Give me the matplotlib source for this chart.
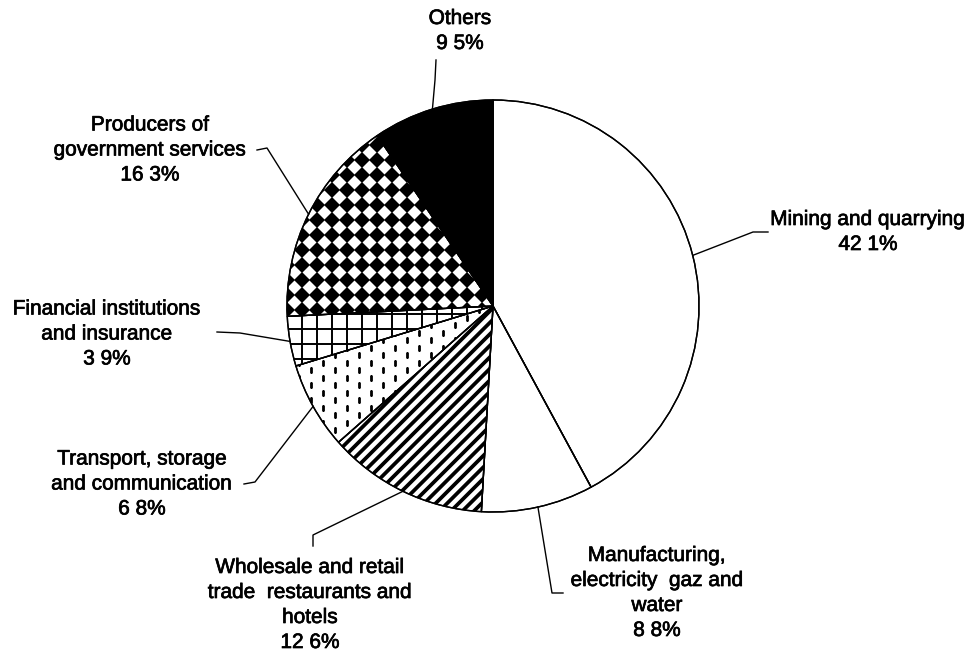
import numpy as np
import matplotlib
matplotlib.use('Agg')
import matplotlib.pyplot as plt
import matplotlib.patheffects as pe
from matplotlib.patches import Wedge

plt.rcParams['font.family'] = ['Liberation Sans', 'DejaVu Sans']

# shares of value added by sector (%)
sectors = ['Mining and quarrying',
           'Manufacturing,\nelectricity  gaz and\nwater',
           'Wholesale and retail\ntrade  restaurants and\nhotels',
           'Transport, storage\nand communication',
           'Financial institutions\nand insurance',
           'Producers of\ngovernment services',
           'Others']
shares = [42.1, 8.8, 12.6, 6.8, 3.9, 16.3, 9.5]
pct_labels = ['42 1%', '8 8%', '12 6%', '6 8%', '3 9%', '16 3%', '9 5%']

# label placement (pixels, y downwards): text centre, elbow point, line end
text_pos = [(868, 232), (657, 593), (310, 605), (142, 484), (107, 334), (150, 150), (460, 31)]
elbows = [(753, 232), (552, 593), (313, 535), (255, 482), (240, 333), (267, 148), (435, 80)]
ends = [(768, 232), (563, 593), (313, 546), (244, 484), (217, 332), (257, 150), (436, 60)]

cx, cy, R = 493, 306, 206

fig = plt.figure(figsize=(9.76, 6.6), dpi=100)
ax = fig.add_axes([0, 0, 1, 1])

wedges, _ = ax.pie(shares, startangle=-90, counterclock=True, center=(cx, cy), radius=R,
                   colors=['white'] * 6 + ['black'],
                   wedgeprops=dict(edgecolor='black', linewidth=1.0), frame=True)
ax.set_xlim(0, 976)
ax.set_ylim(660, 0)
ax.axis('off')

# diagonal stripes for wholesale/retail
for c in np.arange(cx + cy - 2 * R, cx + cy + 2 * R, 11.5):
    ln, = ax.plot([cx - R, cx + R], [c - (cx - R), c - (cx + R)], color='black', lw=2.7,
                  solid_capstyle='butt', zorder=3)
    ln.set_clip_path(wedges[2])

# square grid for financial institutions
for v in np.arange(cx - R, cx + R, 15):
    ln, = ax.plot([v, v], [cy - R, cy + R], color='black', lw=1.4, zorder=3)
    ln.set_clip_path(wedges[4])
    ln, = ax.plot([cx - R, cx + R], [v - cx + cy + 4, v - cx + cy + 4], color='black', lw=1.4, zorder=3)
    ln.set_clip_path(wedges[4])

# diamond checker texture for government services
gx = np.arange(cx - R, cx + R + 15, 15)
gy = np.arange(cy - R, cy + R + 15, 15)
XX, YY = np.meshgrid(gx, gy)
dm, = ax.plot(XX.ravel(), YY.ravel(), 'D', ms=8.3, color='black', mew=0, zorder=3)
dm.set_clip_path(wedges[5])

# vertical dash texture for transport
tx = np.arange(cx - R, cx + R + 12, 12)
ty = np.arange(cy - R, cy + R + 15, 15)
TX, TY = np.meshgrid(tx, ty)
TY = TY + (np.arange(len(tx)) % 2) * 7.5
ds, = ax.plot(TX.ravel(), TY.ravel(), '|', ms=4.5, mew=2.0, color='black', zorder=3)
ds.set_clip_path(wedges[3])

# redraw outlines above the textures
for w in wedges:
    ax.add_patch(Wedge((cx, cy), R, w.theta1, w.theta2, fill=False,
                       edgecolor='black', lw=1.0, zorder=3.5))

for i, w in enumerate(wedges):
    mid = np.deg2rad((w.theta1 + w.theta2) / 2)
    ax_x = cx + R * np.cos(mid)
    ax_y = cy + R * np.sin(mid)
    ex, ey = elbows[i]
    lx, ly = ends[i]
    ax.plot([ax_x, ex, lx], [ax_y, ey, ly], color='black', lw=1.0, zorder=4)
    ax.text(text_pos[i][0], text_pos[i][1], sectors[i] + '\n' + pct_labels[i],
            ha='center', va='center', multialignment='center', fontsize=15,
            linespacing=1.4, color='black',
            path_effects=[pe.withStroke(linewidth=0.5, foreground='black')])

fig.savefig('out.png', dpi=100)
